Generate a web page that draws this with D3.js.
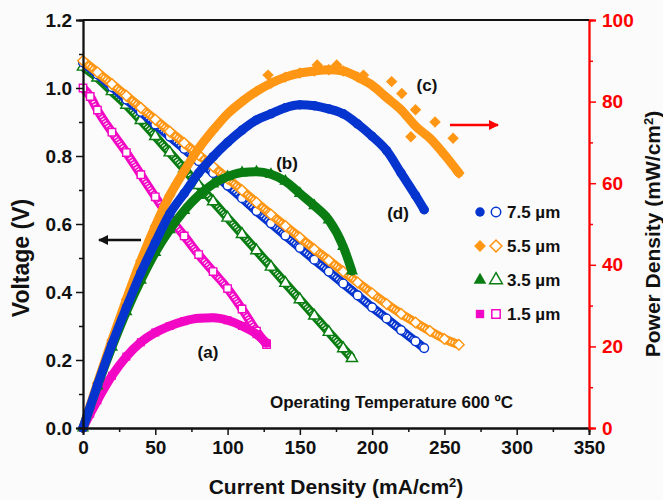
<!DOCTYPE html>
<html>
<head>
<meta charset="utf-8">
<script src="https://cdn.jsdelivr.net/npm/d3@7"></script>
<style>
  body { margin: 0; background: #fbfbfb; }
  svg { display: block; font-family: "Liberation Sans", Arial, sans-serif; font-weight: bold; }
</style>
</head>
<body>
<div id="chart"></div>
<script>
/**
 * Data (current in mA/cm2, voltage in V, power in mW/cm2)
 */
var current75 = [0, 10, 20, 30, 40, 50, 60, 70, 80, 90, 100, 110, 120, 130, 140, 150, 160, 170, 180, 190, 200, 210, 220, 230, 236];
var voltage75 = [1.075, 1.040, 1.003, 0.966, 0.930, 0.893, 0.857, 0.821, 0.785, 0.750, 0.713, 0.676, 0.638, 0.602, 0.566, 0.530, 0.495, 0.460, 0.425, 0.390, 0.355, 0.322, 0.288, 0.255, 0.235];
var power75 = [0, 10.5, 20.5, 29.5, 38, 45.5, 52.5, 57.5, 62.5, 66.5, 70, 73, 75.5, 77, 78.5, 79.2, 79, 78.2, 77, 74.5, 71.5, 68, 62.5, 57, 53.5];

var current55 = [0, 10, 20, 30, 40, 50, 60, 70, 80, 90, 100, 110, 120, 130, 140, 150, 160, 170, 180, 190, 200, 210, 220, 230, 240, 250, 260];
var voltage55 = [1.08, 1.046, 1.012, 0.977, 0.942, 0.907, 0.872, 0.838, 0.803, 0.769, 0.734, 0.699, 0.663, 0.628, 0.594, 0.560, 0.526, 0.493, 0.460, 0.428, 0.396, 0.365, 0.336, 0.310, 0.285, 0.262, 0.245];
var power55 = [0, 11, 21.5, 31.5, 41, 49.5, 57, 63, 68.5, 73, 77, 80, 82.5, 84.5, 86, 87, 87.5, 87.8, 87.5, 86, 84, 81, 78, 74, 71, 67, 62.5];
// scattered 5.5 um power points lying off the main band
var scatterCurrent55 = [128, 162, 175.5, 194, 213.5, 220.5, 226.8, 230, 243.5, 256];
var scatterPower55 = [86.5, 89, 89, 86.5, 84.9, 82, 71.4, 78, 75, 71];

var current35 = [0, 10, 20, 30, 40, 50, 60, 70, 80, 90, 100, 110, 120, 130, 140, 150, 160, 170, 180, 186];
var voltage35 = [1.062, 1.03, 0.99, 0.95, 0.905, 0.858, 0.81, 0.762, 0.714, 0.666, 0.618, 0.57, 0.522, 0.474, 0.426, 0.378, 0.33, 0.282, 0.234, 0.205];
var power35 = [0, 10.3, 19.8, 28.5, 36.2, 43, 48.6, 53.3, 57, 59.8, 61.6, 62.6, 62.8, 62.2, 60.5, 57.5, 54.5, 51, 44.5, 38.5];

var current15 = [0, 5, 10, 20, 30, 40, 50, 60, 70, 80, 90, 100, 110, 120, 127];
var voltage15 = [1.0, 0.975, 0.935, 0.87, 0.81, 0.745, 0.68, 0.618, 0.565, 0.51, 0.46, 0.41, 0.35, 0.285, 0.245];
var power15 = [0, 3.5, 6.8, 12.8, 17.5, 21, 23.4, 25, 26.2, 26.9, 27, 26.4, 25, 23, 20.8];

var thickness = ["7.5 \u00b5m", "5.5 \u00b5m", "3.5 \u00b5m", "1.5 \u00b5m"];
var xTicks = [0, 50, 100, 150, 200, 250, 300, 350];
var vTicks = [0, 0.2, 0.4, 0.6, 0.8, 1.0, 1.2];
var pTicks = [0, 20, 40, 60, 80, 100];

/**
 * Stage
 */
var width = 663,
    height = 500;
var plotLeft = 83, plotRight = 589, plotTop = 20, plotBottom = 428;

var svg = d3.select("#chart")
    .append("svg")
    .attr("width", width)
    .attr("height", height);

var x = d3.scaleLinear().domain([0, 350]).range([plotLeft, plotRight]);
var yV = d3.scaleLinear().domain([0, 1.2]).range([plotBottom, plotTop]);
var yP = d3.scaleLinear().domain([0, 100]).range([plotBottom, plotTop]);

/**
 * series table built from the arrays above
 */
var series = [
    { name: thickness[0], color: "#0534cf", shape: d3.symbolCircle, rot: 0, size: 60, cur: current75, v: voltage75, p: power75 },
    { name: thickness[1], color: "#ff9614", shape: d3.symbolSquare, rot: 45, size: 55, cur: current55, v: voltage55, p: power55 },
    { name: thickness[2], color: "#0a7d12", shape: d3.symbolTriangle, rot: 0, size: 55, cur: current35, v: voltage35, p: power35 },
    { name: thickness[3], color: "#f208c4", shape: d3.symbolSquare, rot: 0, size: 55, cur: current15, v: voltage15, p: power15 }
];

function pts(s, key, yScale) {
    return s.cur.map(function (c, i) { return [x(c), yScale(s[key][i])]; });
}

function placeMarker(d, rot) {
    return "translate(" + d[0] + "," + d[1] + ") rotate(" + rot + ")";
}

var line = d3.line().curve(d3.curveMonotoneX);

/**
 * Voltage curves (open markers)
 */
var drawOrderV = [3, 2, 0, 1];
drawOrderV.forEach(function (k) {
    var s = series[k];
    var p = pts(s, "v", yV);
    svg.append("path").attr("d", line(p))
        .attr("fill", "none").attr("stroke", s.color).attr("stroke-width", 9);
    svg.append("path").attr("d", line(p))
        .attr("fill", "none").attr("stroke", "#ffffff").attr("stroke-width", 3.5)
        .attr("stroke-dasharray", "1.2,1.6").attr("opacity", 0.9);
    svg.selectAll(null).data(p).enter()
        .append("path")
        .attr("d", d3.symbol().type(s.shape).size(s.size))
        .attr("transform", function (d) { return placeMarker(d, s.rot); })
        .attr("fill", "#ffffff")
        .attr("stroke", s.color)
        .attr("stroke-width", 1.4);
});

/**
 * Power curves (filled markers)
 */
var drawOrderP = [3, 2, 1, 0];
drawOrderP.forEach(function (k) {
    var s = series[k];
    var p = pts(s, "p", yP);
    svg.append("path").attr("d", line(p))
        .attr("fill", "none").attr("stroke", s.color).attr("stroke-width", 9)
        .attr("stroke-linecap", "round");
    svg.selectAll(null).data(p).enter()
        .append("path")
        .attr("d", d3.symbol().type(s.shape).size(s.size + 10))
        .attr("transform", function (d) { return placeMarker(d, s.rot); })
        .attr("fill", s.color);
    if (k === 1) {
        svg.selectAll(null).data(scatterCurrent55).enter()
            .append("path")
            .attr("d", d3.symbol().type(s.shape).size(s.size + 10))
            .attr("transform", function (c, i) { return placeMarker([x(c), yP(scatterPower55[i])], s.rot); })
            .attr("fill", s.color);
    }
});

/**
 * Axes
 */
function minorTicks(step, max) {
    return d3.range(step / 2, max, step);
}

var gx = svg.append("g").attr("transform", "translate(0," + plotBottom + ")")
    .call(d3.axisBottom(x).tickValues(xTicks).tickSize(7).tickPadding(6).tickFormat(d3.format("d")));
var gxm = svg.append("g").attr("transform", "translate(0," + plotBottom + ")")
    .call(d3.axisBottom(x).tickValues(minorTicks(50, 350)).tickSize(4).tickFormat(""));

var gl = svg.append("g").attr("transform", "translate(" + plotLeft + ",0)")
    .call(d3.axisLeft(yV).tickValues(vTicks).tickSize(7).tickPadding(4).tickFormat(d3.format(".1f")));
var glm = svg.append("g").attr("transform", "translate(" + plotLeft + ",0)")
    .call(d3.axisLeft(yV).tickValues(minorTicks(0.2, 1.2)).tickSize(4).tickFormat(""));

var gr = svg.append("g").attr("transform", "translate(" + plotRight + ",0)")
    .call(d3.axisRight(yP).tickValues(pTicks).tickSize(7).tickPadding(6).tickFormat(d3.format("d")));
var grm = svg.append("g").attr("transform", "translate(" + plotRight + ",0)")
    .call(d3.axisRight(yP).tickValues(minorTicks(20, 100)).tickSize(4).tickFormat(""));

[gx, gxm, gl, glm, gr, grm].forEach(function (g) { g.attr("font-family", null).attr("font-size", 19); });
svg.selectAll(".domain").attr("stroke-width", 1.8).attr("stroke", "#111");
svg.selectAll(".tick line").attr("stroke-width", 1.5).attr("stroke", "#111");
svg.selectAll(".tick text").attr("fill", "#111");
gr.selectAll(".tick text").attr("fill", "#ff0000");
gr.selectAll(".domain, .tick line").attr("stroke", "#ff0000");
grm.selectAll(".domain, .tick line").attr("stroke", "#ff0000");

// top frame line
svg.append("line")
    .attr("x1", plotLeft).attr("x2", plotRight).attr("y1", plotTop).attr("y2", plotTop)
    .attr("stroke", "#111").attr("stroke-width", 1.8);

/**
 * Axis titles
 */
var bt = svg.append("text")
    .attr("x", (plotLeft + plotRight) / 2).attr("y", 494)
    .attr("text-anchor", "middle").attr("font-size", 21).attr("fill", "#111");
bt.append("tspan").text("Current Density (mA/cm");
bt.append("tspan").attr("baseline-shift", "super").attr("font-size", 13).text("2");
bt.append("tspan").text(")");

svg.append("text")
    .attr("transform", "translate(29,258) rotate(-90)")
    .attr("text-anchor", "middle").attr("font-size", 23).attr("fill", "#111")
    .text("Voltage (V)");

var rt = svg.append("text")
    .attr("transform", "translate(660,234) rotate(-90)")
    .attr("text-anchor", "middle").attr("font-size", 21).attr("fill", "#111");
rt.append("tspan").text("Power Density (mW/cm");
rt.append("tspan").attr("baseline-shift", "super").attr("font-size", 13).text("2");
rt.append("tspan").text(")");

/**
 * Annotations
 */
var notes = [["(a)", 208, 358], ["(b)", 287, 169], ["(c)", 427, 91], ["(d)", 398, 219]];
svg.selectAll(null).data(notes).enter()
    .append("text")
    .attr("x", function (d) { return d[1]; })
    .attr("y", function (d) { return d[2]; })
    .attr("text-anchor", "middle").attr("font-size", 17).attr("fill", "#111")
    .text(function (d) { return d[0]; });

svg.append("text")
    .attr("x", 270).attr("y", 408)
    .attr("font-size", 17).attr("fill", "#111")
    .text("Operating Temperature 600 \u00baC");

var defs = svg.append("defs");
function arrowHead(id, color) {
    defs.append("marker").attr("id", id)
        .attr("viewBox", "0 0 10 10").attr("refX", 9).attr("refY", 5)
        .attr("markerWidth", 4).attr("markerHeight", 4).attr("orient", "auto")
        .append("path").attr("d", "M0,0L10,5L0,10z").attr("fill", color);
}
arrowHead("headBlack", "#111");
arrowHead("headRed", "#ff0000");

svg.append("line").attr("x1", 141).attr("x2", 99).attr("y1", 240).attr("y2", 240)
    .attr("stroke", "#111").attr("stroke-width", 2.5).attr("marker-end", "url(#headBlack)");
svg.append("line").attr("x1", 450).attr("x2", 498).attr("y1", 125).attr("y2", 125)
    .attr("stroke", "#ff0000").attr("stroke-width", 2.5).attr("marker-end", "url(#headRed)");

/**
 * Legend
 */
var legend = svg.selectAll(".legend").data(series).enter()
    .append("g").attr("class", "legend")
    .attr("transform", function (d, i) { return "translate(480," + (212 + i * 34) + ")"; });

legend.append("path")
    .attr("d", function (d) { return d3.symbol().type(d.shape).size(70)(); })
    .attr("transform", function (d) { return "rotate(" + d.rot + ")"; })
    .attr("fill", function (d) { return d.color; });
legend.append("path")
    .attr("d", function (d) { return d3.symbol().type(d.shape).size(70)(); })
    .attr("transform", function (d) { return "translate(16,0) rotate(" + d.rot + ")"; })
    .attr("fill", "#ffffff")
    .attr("stroke", function (d) { return d.color; })
    .attr("stroke-width", 1.5);
legend.append("text")
    .attr("x", 27).attr("y", 6)
    .attr("font-size", 17).attr("fill", "#111")
    .text(function (d) { return d.name; });
</script>
</body>
</html>
